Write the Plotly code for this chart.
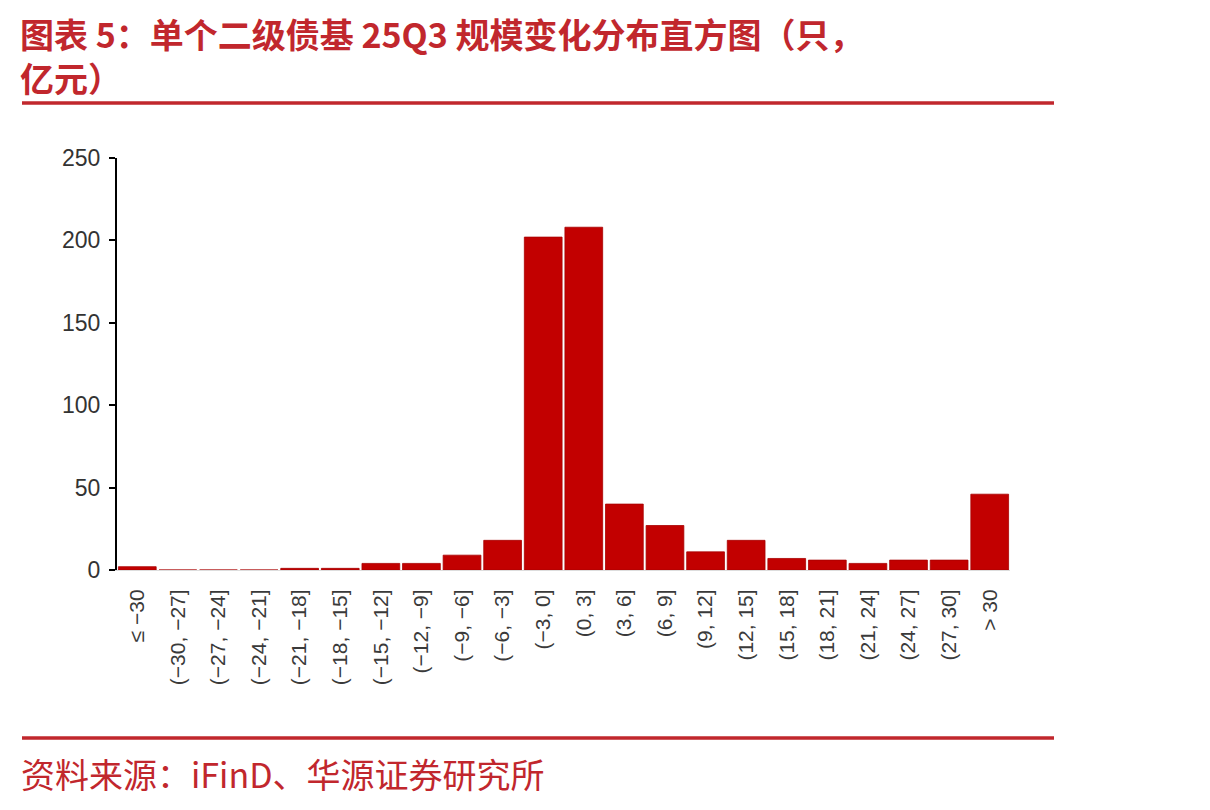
import plotly.graph_objects as go

# histogram buckets (亿元) and fund counts (只)
buckets = ["≤ −30", "(−30, −27]", "(−27, −24]", "(−24, −21]", "(−21, −18]",
           "(−18, −15]", "(−15, −12]", "(−12, −9]", "(−9, −6]", "(−6, −3]",
           "(−3, 0]", "(0, 3]", "(3, 6]", "(6, 9]", "(9, 12]", "(12, 15]",
           "(15, 18]", "(18, 21]", "(21, 24]", "(24, 27]", "(27, 30]", "> 30"]
counts = [2, 0, 0, 0, 1, 1, 4, 4, 9, 18, 202, 208, 40, 27, 11, 18, 7, 6, 4, 6, 6, 46]
y_ticks = [0, 50, 100, 150, 200, 250]

title = "图表 5：单个二级债基 25Q3 规模变化分布直方图（只，<br>亿元）"
source = "资料来源：iFinD、华源证券研究所"

RED = "#c1272d"
CJK = "Noto Sans CJK SC"

# page has an 8px body margin, so work in page pixels and shift
OFF = 8
FW, FH = 1210 - OFF, 810 - OFF
L, R, T, B = 117 - OFF, 1010 - OFF, 158 - OFF, 570 - OFF
W, H = R - L, B - T


def px(x):
    return (x - OFF - L) / W


def py(y):
    return (B - (y - OFF)) / H


fig = go.Figure()
fig.add_trace(go.Bar(
    x=buckets, y=counts,
    marker=dict(color="#c20000", line=dict(color="#a80000", width=0.8)),
))

fig.update_layout(
    width=FW, height=FH,
    paper_bgcolor="white", plot_bgcolor="white",
    margin=dict(l=L, r=FW - R, t=T, b=FH - B),
    showlegend=False,
    bargap=0.07,
    font=dict(family="Liberation Sans, Arial", color="#333333"),
    xaxis=dict(
        type="category", tickangle=-90, ticks="", showgrid=False,
        showline=True, linecolor="#dddddd", linewidth=1,
        tickfont=dict(size=21, color="#3a3a3a"),
        ticklabelstandoff=10,
    ),
    yaxis=dict(
        range=[0, 250], tickvals=y_ticks, showgrid=False, zeroline=False,
        showline=True, linecolor="black", linewidth=2,
        ticks="outside", ticklen=6, tickwidth=1.5, tickcolor="black",
        tickfont=dict(size=23, color="#333333"),
        ticklabelstandoff=4,
    ),
)

fig.add_annotation(text=title, xref="paper", yref="paper",
                   x=px(19), y=py(OFF), xanchor="left", yanchor="top",
                   align="left", showarrow=False, borderpad=0,
                   font=dict(family=CJK, size=34, color=RED, weight="bold"))
fig.add_annotation(text=source, xref="paper", yref="paper",
                   x=px(19), y=py(773), xanchor="left", yanchor="middle",
                   showarrow=False,
                   font=dict(family=CJK, size=34, color=RED))

for yy in (103, 738):
    fig.add_shape(type="line", xref="paper", yref="paper",
                  x0=px(22), x1=px(1054), y0=py(yy), y1=py(yy),
                  line=dict(color=RED, width=3.5))

fig.write_html("out.html")
